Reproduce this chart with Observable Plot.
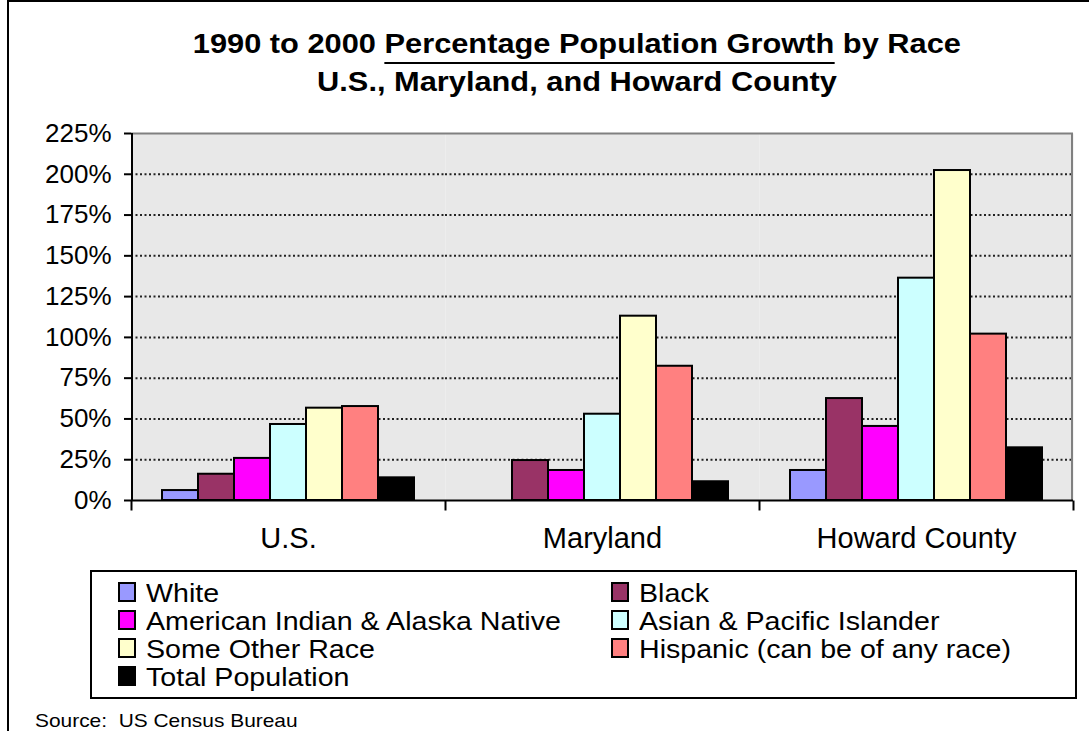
<!DOCTYPE html>
<html>
<head>
<meta charset="utf-8">
<script src="https://cdn.jsdelivr.net/npm/d3@7"></script>
<script src="https://cdn.jsdelivr.net/npm/@observablehq/plot@0.6"></script>
<style>
html, body { margin: 0; padding: 0; background: #fff; }
#page { position: relative; width: 1089px; height: 731px; overflow: hidden; font-family: "Liberation Sans", Arial, sans-serif; color: #000; }
#border { position: absolute; left: 7px; top: 0; width: 1200px; height: 800px; border-left: 2px solid #000; border-top: 2px solid #000; }
.tline { position: absolute; left: 0; width: 1154px; text-align: center; font-weight: bold; font-size: 27px; line-height: 30px; white-space: nowrap; }
.tline .s { display: inline-block; transform: scaleX(1.14); }
.ul { border-bottom: 2.5px solid #000; padding-bottom: 3px; }
#chart { position: absolute; left: 10px; top: 110px; }
#legend { position: absolute; left: 90px; top: 570px; width: 983px; height: 125px; border: 2px solid #000; }
.sw { position: absolute; width: 18px; height: 20px; box-sizing: border-box; border: 2px solid #000; }
.lt { position: absolute; font-size: 26px; line-height: 28px; white-space: nowrap; transform: scaleX(1.1); transform-origin: left center; }
#source { position: absolute; left: 35px; top: 712px; font-size: 18.5px; line-height: 1; white-space: pre; transform: scaleX(1.13); transform-origin: left center; }
</style>
</head>
<body>
<div id="page">
  <div id="border"></div>
  <div class="tline" style="top:29px"><span class="s">1990 to 2000 <span class="ul">Percentage Population Growth</span> by Race</span></div>
  <div class="tline" style="top:67px"><span class="s">U.S., Maryland, and Howard County</span></div>
  <div id="chart"></div>
  <div id="legend"></div>
  <div id="source">Source:  US Census Bureau</div>
</div>
<script>
// ---- data ----
const regions = ["U.S.", "Maryland", "Howard County"];
const races = [
  "White",
  "Black",
  "American Indian & Alaska Native",
  "Asian & Pacific Islander",
  "Some Other Race",
  "Hispanic (can be of any race)",
  "Total Population"
];
const raceColors = ["#9999ff", "#993366", "#ff00ff", "#ccffff", "#ffffcc", "#ff8080", "#000000"];
const usGrowth = [6.1, 16.1, 25.8, 46.6, 56.6, 57.6, 13.9];
const marylandGrowth = [0, 24.5, 18.4, 52.9, 113, 82.3, 11.5];
const howardGrowth = [18.4, 62.5, 45.4, 136.3, 202.3, 102, 32.3];
const yTicks = [0, 25, 50, 75, 100, 125, 150, 175, 200, 225];

const seriesByRegion = [usGrowth, marylandGrowth, howardGrowth];
const data = regions.flatMap((region, i) =>
  races.map((race, j) => ({region, race, value: seriesByRegion[i][j]}))
);

// ---- chart ----
const tickLine = {draw(ctx) { ctx.moveTo(0, 0); ctx.lineTo(0, 10); }};

const chart = Plot.plot({
  width: 1079,
  height: 450,
  marginTop: 23,
  marginRight: 15,
  marginBottom: 60,
  marginLeft: 120,
  style: {background: "transparent", fontFamily: "Liberation Sans, Arial, sans-serif", fontSize: "26px", color: "#000", overflow: "visible"},
  fx: {domain: regions, padding: 0, label: null},
  x: {domain: races, paddingInner: 0, paddingOuter: 0.77, axis: null},
  y: {domain: [0, 225], label: null},
  color: {domain: races, range: raceColors},
  marks: [
    Plot.frame({fill: "#e8e8e8", stroke: "none"}),
    Plot.ruleY(yTicks.filter(t => t > 0 && t < 225), {stroke: "#222", strokeWidth: 2, strokeDasharray: "2,2.5"}),
    Plot.barY(data, {fx: "region", x: "race", y: "value", fill: "race", stroke: "#000", strokeWidth: 2}),
    Plot.ruleY([225], {stroke: "#808080", strokeWidth: 2}),
    Plot.rect([regions[2]], {fx: d => d, fill: "none", stroke: "#808080", strokeWidth: 4, insetLeft: -10, insetTop: -4, insetBottom: -4, clip: true}),
    Plot.rect([regions[0]], {fx: d => d, fill: "none", stroke: "#000", strokeWidth: 4, insetRight: -10, insetTop: -4, insetBottom: -4, clip: true}),
    Plot.ruleY([0], {stroke: "#000", strokeWidth: 2}),
    Plot.dot(regions, {fx: d => d, frameAnchor: "bottom-left", symbol: tickLine, stroke: "#000", strokeWidth: 2, fill: "none"}),
    Plot.dot([regions[2]], {fx: d => d, frameAnchor: "bottom-right", symbol: tickLine, stroke: "#000", strokeWidth: 2, fill: "none"}),
    Plot.axisY({ticks: yTicks, tickFormat: d => d + "%", tickSize: 7, tickPadding: 13, strokeWidth: 2, fontSize: 26, label: null}),
    Plot.axisFx({anchor: "bottom", tickSize: 0, tickPadding: 27, fontSize: 29, label: null})
  ]
});
document.getElementById("chart").appendChild(chart);

// ---- legend ----
const legend = document.getElementById("legend");
races.forEach((race, i) => {
  const col = i % 2, row = Math.floor(i / 2);
  const sw = document.createElement("div");
  sw.className = "sw";
  sw.style.left = (col ? 518.5 : 25.5) + "px";
  sw.style.top = (10 + 28 * row) + "px";
  sw.style.background = raceColors[i];
  legend.appendChild(sw);
  const t = document.createElement("div");
  t.className = "lt";
  t.style.left = (col ? 547 : 54) + "px";
  t.style.top = (7 + 28 * row) + "px";
  t.textContent = race;
  legend.appendChild(t);
});
</script>
</body>
</html>
